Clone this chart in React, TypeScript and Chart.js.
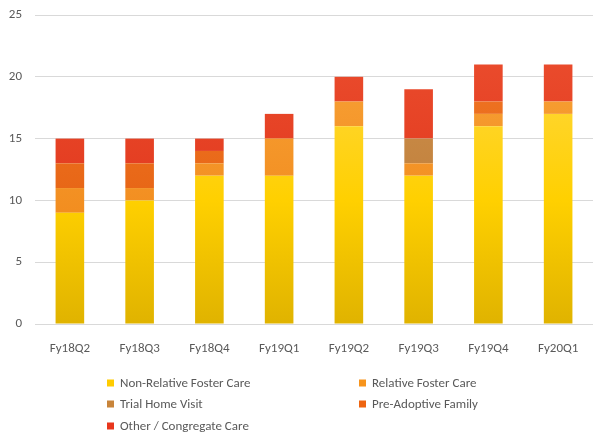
import React, { useEffect, useRef } from "react";
import { Chart, registerables } from "chart.js";

Chart.register(...registerables);

const categories = ["Fy18Q2", "Fy18Q3", "Fy18Q4", "Fy19Q1", "Fy19Q2", "Fy19Q3", "Fy19Q4", "Fy20Q1"];
const nonRelative = [9, 10, 12, 12, 16, 12, 16, 17];
const relative = [2, 1, 1, 3, 2, 1, 1, 1];
const trialHome = [0, 0, 0, 0, 0, 2, 0, 0];
const preAdoptive = [2, 2, 1, 0, 0, 0, 1, 0];
const otherCongregate = [2, 2, 1, 2, 2, 4, 3, 3];
const yTicks = [0, 5, 10, 15, 20, 25];

const seriesNames = [
  "Non-Relative Foster Care",
  "Relative Foster Care",
  "Trial Home Visit",
  "Pre-Adoptive Family",
  "Other / Congregate Care",
];
const seriesColors = ["#FFCC00", "#F7941D", "#C8843A", "#EE6410", "#E8361C"];
const gradTop = ["#FFD84A", "#F9A63C", "#D09450", "#F27A2A", "#EC5030"];
const gradBottom = ["#E2B400", "#EE8010", "#B87430", "#E05808", "#DC2C14"];

const FONT = "Carlito, Calibri, 'Liberation Sans', Arial, sans-serif";
const TEXT = "#595959";

function makeGrad(i: number) {
  return (ctx: any) => {
    const chart = ctx.chart;
    const area = chart.chartArea;
    if (!area) return seriesColors[i];
    const c = chart.ctx as CanvasRenderingContext2D;
    const g = c.createLinearGradient(0, area.top, 0, area.bottom);
    if (i === 0) {
      g.addColorStop(0, "#FFDA55");
      g.addColorStop(0.6, "#FFD000");
      g.addColorStop(1, "#E0B300");
    } else {
      g.addColorStop(0, gradTop[i]);
      g.addColorStop(1, gradBottom[i]);
    }
    return g;
  };
}

const legendPlugin = {
  id: "customLegend",
  afterDraw(chart: any) {
    const c = chart.ctx as CanvasRenderingContext2D;
    const pos = [
      [107, 383],
      [359, 383],
      [107, 404],
      [359, 404],
      [107, 426],
    ];
    c.save();
    c.font = `13px ${FONT}`;
    c.textBaseline = "middle";
    c.textAlign = "left";
    seriesNames.forEach((name, i) => {
      const [x, y] = pos[i];
      c.fillStyle = seriesColors[i];
      c.fillRect(x, y - 3.5, 7, 7);
      c.fillStyle = TEXT;
      c.fillText(name, x + 13, y + 0.5);
    });
    c.restore();
  },
};

export default function App() {
  const ref = useRef<HTMLCanvasElement>(null);
  useEffect(() => {
    if (!ref.current) return;
    const datasets = [nonRelative, relative, trialHome, preAdoptive, otherCongregate].map((d, i) => ({
      label: seriesNames[i],
      data: d,
      backgroundColor: makeGrad(i),
      borderWidth: 0,
      categoryPercentage: 1,
      barPercentage: 0.41,
    }));
    const chart = new Chart(ref.current, {
      type: "bar",
      data: { labels: categories, datasets },
      options: {
        animation: false,
        responsive: false,
        maintainAspectRatio: false,
        layout: { padding: { top: 15, right: 0, bottom: 74, left: 0 } },
        plugins: { legend: { display: false }, tooltip: { enabled: false } },
        scales: {
          x: {
            stacked: true,
            grid: { display: false, drawTicks: false },
            border: { display: false },
            ticks: { color: TEXT, font: { family: FONT, size: 13 }, padding: 17, maxRotation: 0 },
            afterFit: (s: any) => {
              s.height = 40;
              s.paddingLeft = 0;
              s.paddingRight = 0;
            },
          },
          y: {
            stacked: true,
            min: 0,
            max: 25,
            afterBuildTicks: (s: any) => {
              s.ticks = yTicks.map((v) => ({ value: v }));
            },
            grid: { color: "#D9D9D9", lineWidth: 1, drawTicks: false },
            border: { display: false },
            ticks: { color: TEXT, font: { family: FONT, size: 13 }, padding: 13 },
            afterFit: (s: any) => {
              s.width = 35;
              s.paddingTop = 0;
              s.paddingBottom = 0;
            },
          },
        },
      },
      plugins: [legendPlugin],
    });
    return () => chart.destroy();
  }, []);
  return (
    <div style={{ position: "fixed", left: 0, top: 0, width: 593, height: 438, background: "#fff" }}>
      <canvas ref={ref} width={593} height={438} style={{ width: 593, height: 438 }} />
    </div>
  );
}
